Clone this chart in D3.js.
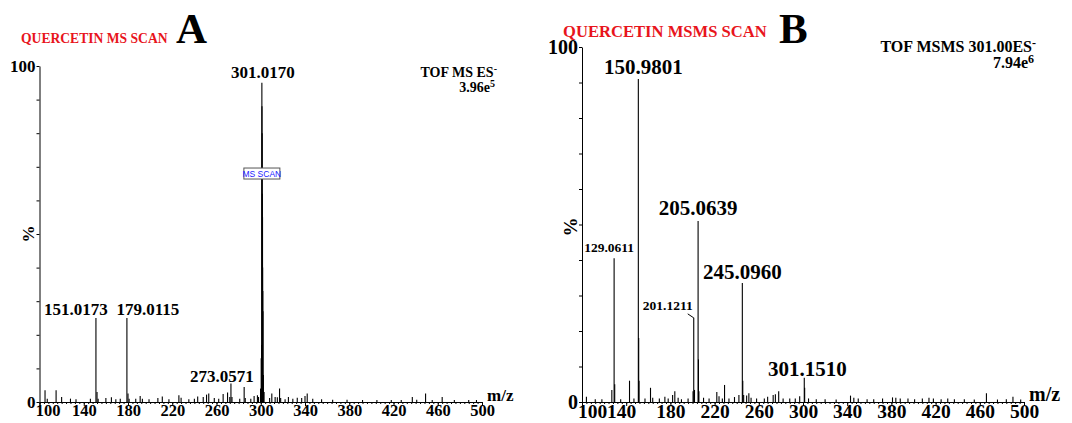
<!DOCTYPE html>
<html>
<head>
<meta charset="utf-8">
<script src="https://cdn.jsdelivr.net/npm/d3@7"></script>
<style>
  body { margin: 0; background: #fff; }
  svg { display: block; }
  text { font-family: "Liberation Serif", "Times New Roman", serif; font-weight: bold; fill: #000; }
  .axis path, .axis line { stroke: #000; stroke-width: 1; }
</style>
</head>
<body>
<svg width="1072" height="423"></svg>
<script>
// ---- data ----
var mzTicks = [100, 140, 180, 220, 260, 300, 340, 380, 420, 460, 500];
var pctTicks = [0, 10, 20, 30, 40, 50, 60, 70, 80, 90, 100];

// panel A: quercetin MS scan, [m/z, relative intensity %]
var msLabelled = [[151.0173, 25], [179.0115, 25], [273.0571, 5.5], [301.0170, 95]];
var msCluster = [[299.8, 4], [300.4, 13], [300.7, 17], [301.1, 88], [301.25, 80], [301.45, 62],
  [301.6, 55], [301.7, 40], [301.85, 33], [302.0, 27], [302.4, 8], [303.0, 3]];
var msMinor = [[105, 3.5], [107, 1], [115, 3.5], [120, 1.5], [128, 1], [133, 0.8], [146, 1],
  [152, 3], [153, 1], [160, 1.2], [165, 1.4], [169, 0.8], [173, 1], [180, 2.5], [181, 1],
  [187, 1], [191, 1.8], [193, 1], [199, 0.8], [207, 1.2], [211, 1.6], [217, 0.8], [226, 2],
  [228, 1.3], [235, 0.8], [240, 1], [243, 1.6], [248, 1.5], [251, 2.2], [253, 2.5], [258, 1.2],
  [262, 1], [266, 2.4], [270, 2.8], [272, 1.5], [274, 1.5], [281, 1], [285, 4.5], [286, 1.2],
  [291, 1], [294, 1.8], [297, 2], [298, 1.5], [308, 1.2], [310, 2.5], [313, 1.5], [315, 1.4],
  [317, 4], [318, 1.2], [322, 0.8], [325, 1.5], [329, 1], [333, 1.3], [337, 1.2], [340, 1.8],
  [342, 2.5], [347, 1], [355, 0.8], [365, 0.7], [378, 0.7], [392, 0.6], [405, 0.6], [418, 0.6],
  [427, 0.6], [437, 1.5], [441, 0.7], [449, 2.5], [455, 0.6], [464, 1.5], [475, 0.6], [488, 0.6],
  [495, 0.6]];

// panel B: quercetin MSMS scan of 301.00
var msmsLabelled = [[129.0611, 40.5], [150.9801, 91], [201.1211, 23.7], [205.0639, 51],
  [245.0960, 33.5], [301.1510, 6.8]];
var msmsCompanion = [[129.6, 5], [151.3, 18], [151.6, 6], [205.4, 12], [205.8, 3], [245.5, 6],
  [246.3, 2], [200.5, 3], [201.8, 3.4], [301.5, 4]];
var msmsMinor = [[104, 1.5], [112, 0.8], [118, 0.8], [127, 3.4], [135, 0.8], [143, 6], [147, 1],
  [157, 1], [162, 4], [164, 1.2], [170, 1], [175, 1.5], [178, 1], [182, 2], [184, 3], [187, 1.2],
  [190, 0.8], [196, 1], [210, 1.2], [215, 1], [222, 2.8], [224, 1.6], [227, 1], [229, 4.8],
  [233, 1], [238, 1.4], [242, 2], [249, 1.8], [251, 2.5], [253, 1.2], [258, 1], [265, 1],
  [268, 1.5], [273, 2], [275, 2.2], [278, 3], [282, 1], [288, 1], [293, 1], [297, 1.6], [305, 1],
  [312, 0.8], [320, 0.8], [330, 0.7], [343, 1.8], [346, 1.2], [350, 1], [358, 0.8], [364, 0.8],
  [372, 1], [381, 1.3], [384, 1.2], [388, 1], [395, 1], [401, 0.8], [408, 1], [414, 1.2],
  [418, 1], [425, 0.8], [431, 1], [437, 0.8], [446, 0.8], [455, 0.7], [466, 2.5], [476, 0.7],
  [484, 0.8], [490, 1.5], [497, 0.7]];

var svg = d3.select("svg");

function drawPanel(cfg) {
  var g = svg.append("g");
  var x = d3.scaleLinear().domain([100, 500]).range([cfg.left, cfg.right]);
  var y = d3.scaleLinear().domain([0, 100]).range([cfg.bottom, cfg.top]);

  // minor x ticks
  g.append("g")
    .attr("class", "axis")
    .attr("transform", "translate(0," + cfg.bottom + ")")
    .call(d3.axisBottom(x).tickValues(d3.range(100, 501, 4)).tickSize(2).tickFormat(""))
    .select(".domain").remove();

  // x axis
  var xa = g.append("g")
    .attr("class", "axis")
    .attr("transform", "translate(0," + cfg.bottom + ")")
    .call(d3.axisBottom(x).tickValues(mzTicks).tickSizeOuter(0).tickSize(4).tickPadding(0));
  xa.selectAll("text")
    .style("font-size", cfg.tickFont + "px")
    .attr("dy", "0.6em")
    .attr("dx", function(d, i) { return cfg.tickShift[i] || 0; });

  // y axis
  var ya = g.append("g")
    .attr("class", "axis")
    .attr("transform", "translate(" + cfg.left + ",0)")
    .call(d3.axisLeft(y).tickValues(pctTicks).tickSize(3).tickSizeOuter(0).tickPadding(1)
      .tickFormat(function(d) { return (d === 0 || d === 100) ? d : ""; }));
  ya.selectAll("text").style("font-size", cfg.yFont + "px");

  // peaks
  var all = cfg.minor.concat(cfg.companion, cfg.labelled);
  g.selectAll("line.peak")
    .data(all)
    .enter().append("line")
    .attr("class", "peak")
    .attr("x1", function(d) { return x(d[0]); })
    .attr("x2", function(d) { return x(d[0]); })
    .attr("y1", y(0))
    .attr("y2", function(d) { return y(d[1]); })
    .attr("stroke", "#000")
    .attr("stroke-width", 1.1);

  // peak labels
  cfg.labelled.forEach(function(p, i) {
    var lab = cfg.labelStyle[i];
    g.append("text")
      .attr("x", x(p[0]) + lab.dx)
      .attr("y", y(p[1]) - lab.gap)
      .attr("text-anchor", "middle")
      .style("font-size", lab.size + "px")
      .text(p[0].toFixed(4));
    if (lab.leader) {
      g.append("path")
        .attr("d", "M" + (x(p[0]) - 6) + "," + (y(p[1]) - 4) + "L" + x(p[0]) + "," + y(p[1]))
        .attr("stroke", "#000")
        .attr("fill", "none");
    }
  });

  // titles
  g.append("text")
    .attr("x", cfg.titleX).attr("y", cfg.titleY)
    .style("font-size", cfg.titleFont + "px")
    .style("fill", "#e8141c")
    .text(cfg.title);
  g.append("text")
    .attr("x", cfg.letterX).attr("y", 43)
    .style("font-size", "43px")
    .text(cfg.letter);

  // instrument info
  var info = g.append("text")
    .attr("x", cfg.infoX).attr("y", cfg.infoY)
    .attr("text-anchor", "end")
    .style("font-size", cfg.infoFont + "px");
  info.append("tspan").text(cfg.info);
  info.append("tspan").attr("dy", -5).style("font-size", (cfg.infoFont - 4) + "px").text("-");
  var sc = g.append("text")
    .attr("x", cfg.infoX - 2).attr("y", cfg.infoY + cfg.infoGap)
    .attr("text-anchor", "end")
    .style("font-size", cfg.infoFont + "px");
  sc.append("tspan").text(cfg.scale);
  sc.append("tspan").attr("dy", -5).style("font-size", (cfg.infoFont - 4) + "px").text(cfg.scaleExp);

  // axis titles
  g.append("text")
    .attr("transform", "translate(" + cfg.pctX + "," + cfg.pctY + ") rotate(-90)")
    .attr("text-anchor", "middle")
    .style("font-size", cfg.pctFont + "px")
    .text("%");
  g.append("text")
    .attr("x", cfg.right + 5).attr("y", cfg.bottom - 1)
    .style("font-size", cfg.mzFont + "px")
    .text("m/z");

  return {x: x, y: y, g: g};
}

var a = drawPanel({
  left: 39.5, right: 482, top: 66, bottom: 402,
  labelled: msLabelled, companion: msCluster, minor: msMinor,
  labelStyle: [
    {dx: -20, gap: 3, size: 17},
    {dx: 21, gap: 3, size: 17},
    {dx: -9, gap: 2, size: 17},
    {dx: 1, gap: 5, size: 17}
  ],
  tickFont: 16.5, tickShift: [8], yFont: 17,
  title: "QUERCETIN MS SCAN", titleX: 21, titleY: 43, titleFont: 13.6,
  letter: "A", letterX: 176,
  info: "TOF MS ES", infoX: 497, infoY: 77, infoFont: 14, infoGap: 15,
  scale: "3.96e", scaleExp: "5",
  pctX: 34, pctY: 234, pctFont: 17, mzFont: 17
});

// "MS SCAN" marker on the base peak
var bx = a.x(301.017), by = a.y(68);
a.g.append("rect")
  .attr("x", bx - 18).attr("y", by - 5.5)
  .attr("width", 36).attr("height", 11)
  .attr("fill", "#fff").attr("stroke", "#555").attr("stroke-width", 1);
a.g.append("text")
  .attr("x", bx).attr("y", by + 3.5)
  .attr("text-anchor", "middle")
  .style("font-family", "'Liberation Sans', Arial, sans-serif")
  .style("font-weight", "normal")
  .style("font-size", "8.5px")
  .style("fill", "#1a1aff")
  .text("MS SCAN");

var b = drawPanel({
  left: 582, right: 1024, top: 47, bottom: 402,
  labelled: msmsLabelled, companion: msmsCompanion, minor: msmsMinor,
  labelStyle: [
    {dx: -5, gap: 6, size: 13.5},
    {dx: 5, gap: 5, size: 21},
    {dx: -26, gap: 8, size: 13.5, leader: true},
    {dx: 0, gap: 6, size: 21},
    {dx: 0, gap: 4, size: 21},
    {dx: 3, gap: 2, size: 21}
  ],
  tickFont: 19.5, tickShift: [10, -5], yFont: 20,
  title: "QUERCETIN MSMS SCAN", titleX: 563, titleY: 37, titleFont: 16.6,
  letter: "B", letterX: 779,
  info: "TOF MSMS 301.00ES", infoX: 1036, infoY: 52, infoFont: 16, infoGap: 16,
  scale: "7.94e", scaleExp: "6",
  pctX: 577, pctY: 227, pctFont: 19, mzFont: 20
});
</script>
</body>
</html>
